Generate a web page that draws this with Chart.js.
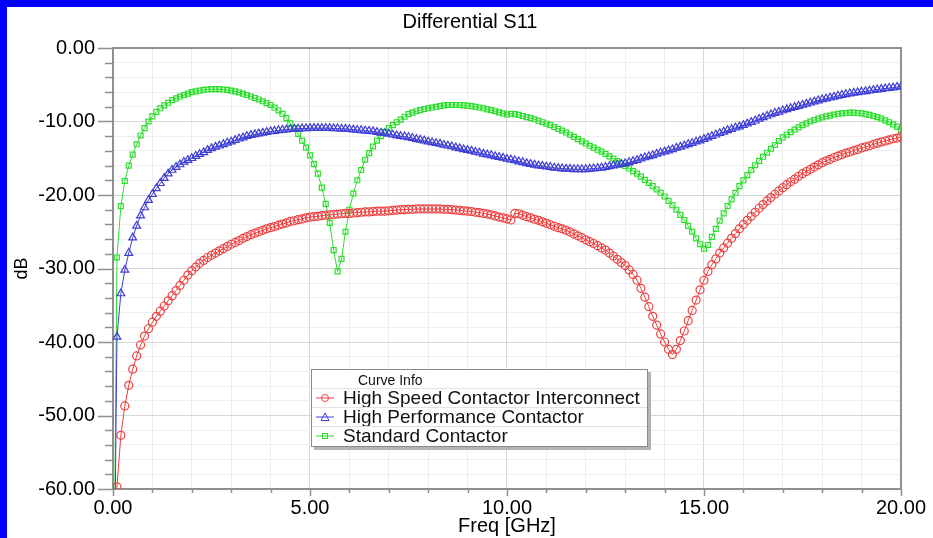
<!DOCTYPE html>
<html>
<head>
<meta charset="utf-8">
<title>Differential S11</title>
<script src="https://cdn.jsdelivr.net/npm/chart.js@4/dist/chart.umd.min.js"></script>
<style>
  body { margin: 0; background: #fff; }
  #page { position: relative; width: 933px; height: 538px; background: #fff; overflow: hidden; }
  .bar { position: absolute; background: #0000fa; }
  #s11 { position: absolute; left: 7px; top: 7px; }
  #title {
    position: absolute; left: 7px; top: 10px; width: 926px; text-align: center;
    font-family: 'Liberation Sans', Arial, sans-serif; font-size: 20px; line-height: 22px; color: #000;
  }
  #legend {
    position: absolute; left: 311px; top: 369px; width: 337px; height: 78px;
    box-sizing: border-box; border: 1px solid #8a8a8a; background: #fff;
    box-shadow: 3px 3px 0 #b4b4b4;
    font-family: 'Liberation Sans', Arial, sans-serif; color: #111;
  }
  #legend .cap { position: absolute; left: 46px; top: 2px; font-size: 14px; line-height: 16px; }
  #legend .row {
    position: absolute; left: 0; right: 0; height: 19px; box-sizing: border-box;
    border-top: 1px solid #e2e2e2; font-size: 19px; line-height: 18px; white-space: nowrap;
  }
  #legend .row svg { position: absolute; left: 4px; top: 0; }
  #legend .row span { position: absolute; left: 31px; top: 0; }
</style>
</head>
<body>
<div id="page">
  <div class="bar" style="left:0;top:0;width:933px;height:7px"></div>
  <div class="bar" style="left:0;top:0;width:7px;height:538px"></div>
  <canvas id="s11" width="926" height="531"></canvas>
  <div id="title">Differential S11</div>
  <div id="legend"><div class="cap">Curve Info</div></div>
</div>
<script>
// frequency sweep 0 .. 20 GHz, 0.1 GHz step
const freqGHz = Array.from({ length: 201 }, (_, i) => +(i * 0.1).toFixed(1));

// High Speed Contactor Interconnect (dB)
const hsciDb = [-75,
  -59.7, -52.7, -48.7, -45.9, -43.7, -41.9, -40.4, -39.2, -38.2, -37.3,
  -36.5, -35.8, -35.1, -34.4, -33.7, -33.0, -32.3, -31.6, -30.9, -30.3,
  -29.8, -29.3, -28.9, -28.5, -28.2, -27.9, -27.6, -27.3, -27.0, -26.7,
  -26.45, -26.2, -25.9, -25.65, -25.4, -25.2, -25.0, -24.8, -24.6, -24.45,
  -24.3, -24.1, -23.95, -23.8, -23.6, -23.5, -23.35, -23.25, -23.1, -23.0,
  -22.95, -22.9, -22.8, -22.75, -22.7, -22.65, -22.6, -22.55, -22.5, -22.5,
  -22.45, -22.4, -22.35, -22.3, -22.3, -22.25, -22.2, -22.2, -22.2, -22.15,
  -22.1, -22.05, -22.0, -22.0, -21.95, -21.95, -21.9, -21.9, -21.9, -21.9,
  -21.9, -21.9, -21.9, -21.95, -21.95, -22.0, -22.05, -22.1, -22.15, -22.2,
  -22.25, -22.35, -22.4, -22.5, -22.6, -22.7, -22.85, -23.0, -23.1, -23.25,
  -23.4, -22.5, -22.55, -22.75, -22.95, -23.1, -23.3, -23.45, -23.65, -23.85,
  -24.05, -24.25, -24.45, -24.6, -24.8, -25.05, -25.3, -25.55, -25.8, -26.1,
  -26.35, -26.6, -26.9, -27.2, -27.5, -27.9, -28.3, -28.75, -29.2, -29.6,
  -30.2, -30.8, -31.6, -32.7, -33.9, -35.2, -36.5, -37.7, -38.9, -40.0,
  -41.0, -41.7, -41.0, -39.8, -38.5, -37.1, -35.7, -34.3, -32.9, -31.6,
  -30.4, -29.5, -28.7, -27.9, -27.2, -26.55, -25.9, -25.25, -24.6, -24.0,
  -23.45, -22.9, -22.35, -21.8, -21.3, -20.8, -20.35, -19.9, -19.45, -19.0,
  -18.6, -18.2, -17.85, -17.45, -17.1, -16.8, -16.5, -16.2, -15.9, -15.6,
  -15.35, -15.15, -14.9, -14.7, -14.5, -14.3, -14.15, -13.95, -13.8, -13.6,
  -13.45, -13.3, -13.1, -12.95, -12.8, -12.65, -12.5, -12.35, -12.25, -12.1];

// High Performance Contactor (dB)
const hpcDb = [-90,
  -39.3, -33.4, -30.2, -27.9, -25.8, -24.2, -22.8, -21.7, -20.7, -19.9,
  -19.1, -18.4, -17.7, -17.1, -16.6, -16.2, -15.85, -15.5, -15.25, -15.0,
  -14.7, -14.45, -14.2, -13.9, -13.65, -13.45, -13.3, -13.1, -12.9, -12.75,
  -12.55, -12.35, -12.2, -12.0, -11.85, -11.75, -11.65, -11.55, -11.45, -11.35,
  -11.3, -11.2, -11.15, -11.1, -11.05, -11.0, -11.0, -10.95, -10.95, -10.9,
  -10.9, -10.9, -10.9, -10.9, -10.9, -10.95, -10.95, -11.0, -11.0, -11.05,
  -11.1, -11.15, -11.2, -11.25, -11.3, -11.35, -11.45, -11.55, -11.6, -11.7,
  -11.8, -11.9, -12.0, -12.05, -12.15, -12.25, -12.4, -12.5, -12.6, -12.75,
  -12.85, -12.95, -13.05, -13.2, -13.3, -13.4, -13.55, -13.65, -13.8, -13.9,
  -14.0, -14.15, -14.25, -14.4, -14.5, -14.6, -14.75, -14.85, -14.95, -15.1,
  -15.2, -15.3, -15.45, -15.55, -15.7, -15.8, -15.9, -16.0, -16.05, -16.15,
  -16.2, -16.3, -16.35, -16.4, -16.45, -16.45, -16.5, -16.5, -16.5, -16.5,
  -16.45, -16.4, -16.35, -16.3, -16.2, -16.1, -16.0, -15.9, -15.8, -15.7,
  -15.55, -15.4, -15.25, -15.05, -14.9, -14.75, -14.6, -14.4, -14.25, -14.1,
  -13.95, -13.8, -13.6, -13.45, -13.3, -13.1, -12.95, -12.75, -12.6, -12.4,
  -12.2, -12.0, -11.8, -11.6, -11.4, -11.2, -11.05, -10.85, -10.7, -10.5,
  -10.3, -10.1, -9.9, -9.65, -9.45, -9.25, -9.05, -8.85, -8.7, -8.5,
  -8.35, -8.2, -8.05, -7.9, -7.75, -7.6, -7.45, -7.3, -7.15, -7.0,
  -6.9, -6.75, -6.65, -6.5, -6.4, -6.3, -6.2, -6.1, -6.05, -5.95,
  -5.9, -5.8, -5.75, -5.65, -5.6, -5.5, -5.45, -5.4, -5.3, -5.25];

// Standard Contactor (dB)
const scDb = [-90,
  -28.5, -21.5, -18.1, -16.0, -14.5, -13.1, -11.9, -10.9, -10.0, -9.3,
  -8.7, -8.2, -7.8, -7.45, -7.1, -6.85, -6.6, -6.4, -6.2, -6.0,
  -5.9, -5.8, -5.7, -5.65, -5.6, -5.6, -5.6, -5.65, -5.7, -5.8,
  -5.9, -6.05, -6.2, -6.4, -6.6, -6.8, -7.0, -7.25, -7.5, -7.75,
  -8.1, -8.5, -8.95, -9.55, -10.25, -10.9, -11.7, -12.6, -13.55, -14.6,
  -15.8, -17.1, -19.0, -21.2, -23.8, -27.5, -30.4, -28.7, -25.0, -22.0,
  -19.8, -18.0, -16.6, -15.2, -14.3, -13.4, -12.6, -12.0, -11.4, -10.9,
  -10.5, -10.1, -9.75, -9.35, -9.0, -8.8, -8.6, -8.45, -8.3, -8.2,
  -8.1, -8.0, -7.9, -7.8, -7.75, -7.75, -7.75, -7.75, -7.8, -7.85,
  -7.9, -8.0, -8.1, -8.2, -8.35, -8.45, -8.6, -8.75, -8.9, -9.05,
  -8.95, -9.0, -9.1, -9.25, -9.4, -9.55, -9.7, -9.9, -10.1, -10.3,
  -10.5, -10.75, -11.0, -11.25, -11.5, -11.8, -12.1, -12.4, -12.7, -13.0,
  -13.3, -13.55, -13.85, -14.1, -14.4, -14.75, -15.05, -15.4, -15.7, -16.05,
  -16.4, -16.75, -17.1, -17.5, -17.95, -18.35, -18.8, -19.25, -19.7, -20.2,
  -20.8, -21.4, -22.0, -22.7, -23.4, -24.2, -25.0, -25.9, -26.7, -27.3,
  -26.8, -25.7, -24.6, -23.5, -22.5, -21.5, -20.6, -19.7, -18.8, -18.0,
  -17.3, -16.6, -15.95, -15.35, -14.8, -14.25, -13.7, -13.2, -12.65, -12.15,
  -11.8, -11.45, -11.1, -10.8, -10.5, -10.25, -10.0, -9.8, -9.6, -9.45,
  -9.3, -9.2, -9.05, -8.95, -8.9, -8.85, -8.8, -8.8, -8.85, -8.9,
  -9.0, -9.1, -9.25, -9.4, -9.6, -9.85, -10.1, -10.4, -10.7, -11.1];

const seriesNames = ['High Speed Contactor Interconnect', 'High Performance Contactor', 'Standard Contactor'];

const FONT = "'Liberation Sans', Arial, sans-serif";

function toPoints(values) {
    return values.map((v, i) => ({ x: freqGHz[i], y: v }));
}

function makeSet(label, values, color, style, radius) {
    return {
        label: label,
        data: toPoints(values),
        borderColor: color,
        borderWidth: 1,
        pointStyle: style,
        pointRadius: radius,
        pointBorderColor: color,
        pointBackgroundColor: 'rgba(0,0,0,0)',
        pointBorderWidth: 1.2,
        tension: 0,
        clip: 0
    };
}

//frame around plot + tick marks outside the axes
const axisFrame = {
    id: 'axisFrame',
    beforeDatasetsDraw(chart) {
        const { ctx, chartArea: a } = chart;
        ctx.save();
        ctx.strokeStyle = '#8f8f8f';
        ctx.lineWidth = 2;
        ctx.strokeRect(a.left, a.top, a.right - a.left, a.bottom - a.top);
        ctx.restore();
    },
    afterDraw(chart) {
        const { ctx, chartArea: a, scales } = chart;
        ctx.save();
        ctx.strokeStyle = '#8f8f8f';
        ctx.lineWidth = 1.5;
        ctx.beginPath();
        scales.y.ticks.forEach(t => {
            const py = Math.round(scales.y.getPixelForValue(t.value)) + 0.5;
            const len = t.value % 10 === 0 ? 15 : 8;
            ctx.moveTo(a.left - len, py);
            ctx.lineTo(a.left, py);
        });
        scales.x.ticks.forEach(t => {
            const px = Math.round(scales.x.getPixelForValue(t.value)) + 0.5;
            const len = t.value % 5 === 0 ? 7 : 4;
            ctx.moveTo(px, a.bottom);
            ctx.lineTo(px, a.bottom + len);
        });
        ctx.stroke();
        ctx.restore();
    }
};

const datasets = [
    makeSet(seriesNames[0], hsciDb, 'rgb(238,64,64)', 'circle', 4),
    makeSet(seriesNames[1], hpcDb, 'rgb(62,62,214)', 'triangle', 4.5),
    makeSet(seriesNames[2], scDb, 'rgb(46,222,46)', 'rect', 3.5)
];

const chart = new Chart(document.getElementById('s11'), {
    type: 'line',
    data: { datasets: datasets },
    options: {
        responsive: false,
        animation: false,
        events: [],
        layout: { padding: { left: 0, right: 32, top: 41, bottom: 0 } },
        plugins: {
            legend: { display: false },
            tooltip: { enabled: false },
            title: { display: false }
        },
        scales: {
            x: {
                type: 'linear',
                min: 0,
                max: 20,
                afterFit: s => { s.height = 49; },
                border: { display: false },
                grid: {
                    drawTicks: false,
                    color: c => (c.tick && c.tick.value % 5 === 0) ? '#d6d6d6' : '#eeeeee'
                },
                ticks: {
                    stepSize: 1,
                    autoSkip: false,
                    maxRotation: 0,
                    padding: 7,
                    color: '#000',
                    font: { family: FONT, size: 20 },
                    callback: v => v % 5 === 0 ? v.toFixed(2) : ''
                },
                title: {
                    display: true,
                    text: 'Freq [GHz]',
                    color: '#000',
                    font: { family: FONT, size: 20 },
                    padding: 0
                }
            },
            y: {
                min: -60,
                max: 0,
                afterFit: s => { s.width = 106; },
                border: { display: false },
                grid: {
                    drawTicks: false,
                    color: c => (c.tick && c.tick.value % 10 === 0) ? '#d6d6d6' : '#eeeeee'
                },
                ticks: {
                    stepSize: 2,
                    autoSkip: false,
                    padding: 18,
                    color: '#000',
                    font: { family: FONT, size: 20 },
                    callback: v => v % 10 === 0 ? v.toFixed(2) : ''
                },
                title: {
                    display: true,
                    text: 'dB',
                    color: '#000',
                    font: { family: FONT, size: 18 },
                    padding: { top: 4, bottom: 0 }
                }
            }
        }
    },
    plugins: [axisFrame]
});

//legend box ("Curve Info") built from the datasets
function buildLegend() {
    const box = document.getElementById('legend');
    const icons = {
        circle: c => '<circle cx="9" cy="9" r="3.5" fill="none" stroke="' + c + '"/>',
        triangle: c => '<polygon points="9,5 13,12.5 5,12.5" fill="none" stroke="' + c + '"/>',
        rect: c => '<rect x="6.5" y="6.5" width="5" height="5" fill="none" stroke="' + c + '"/>'
    };
    datasets.forEach((ds, i) => {
        const row = document.createElement('div');
        row.className = 'row';
        row.style.top = (18 + i * 19) + 'px';
        row.innerHTML = '<svg width="18" height="18"><line x1="0" y1="9" x2="18" y2="9" stroke="' + ds.borderColor + '"/>'
            + icons[ds.pointStyle](ds.borderColor) + '</svg><span>' + ds.label + '</span>';
        box.appendChild(row);
    });
}
buildLegend();
</script>
</body>
</html>
